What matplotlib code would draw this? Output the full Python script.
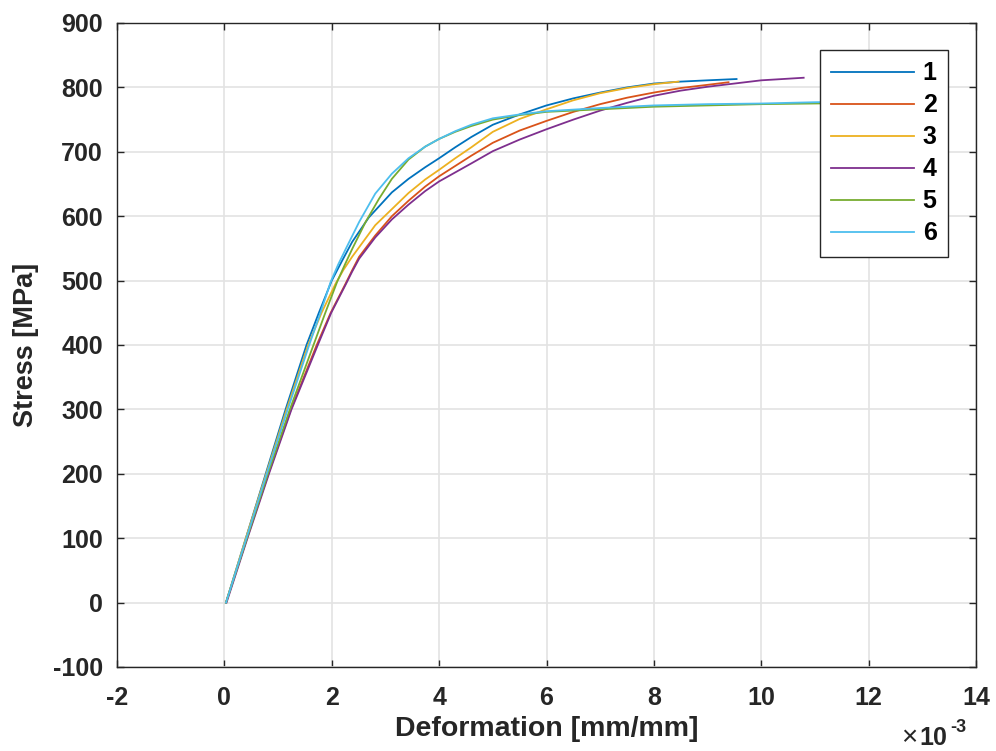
import numpy as np
import matplotlib
matplotlib.use("Agg")
import matplotlib.pyplot as plt
from matplotlib.ticker import FuncFormatter

plt.rcParams['font.family'] = ['Liberation Sans', 'DejaVu Sans']
plt.rcParams['font.weight'] = 'bold'
plt.rcParams['axes.unicode_minus'] = False

# strain in 1e-3 mm/mm, stress in MPa
strain_1 = [0.03, 0.40, 0.77, 1.14, 1.53, 1.76, 2.00, 2.20, 2.38, 2.69, 3.12, 3.43, 3.74, 4.0, 4.3,
            4.6, 5.0, 5.5, 6.0, 6.5, 7.0, 7.5, 8.0, 8.5, 9.0, 9.54]
stress_1 = [0, 100, 200, 300, 400, 450, 500, 532, 560, 598, 637, 658, 676, 690, 707,
            723, 742, 758, 772, 783, 792, 800, 806, 809, 811, 813]

strain_2 = [0.03, 0.42, 0.82, 1.24, 1.72, 1.98, 2.25, 2.38, 2.51, 2.81, 3.12, 3.43, 3.74, 4.0, 4.3,
            4.6, 5.0, 5.5, 6.0, 6.5, 7.0, 7.5, 8.0, 8.5, 9.0, 9.39]
stress_2 = [0, 100, 200, 300, 400, 450, 494, 516, 537, 570, 600, 624, 646, 662, 678,
            694, 714, 733, 748, 762, 774, 784, 792, 799, 804, 808]

strain_3 = [0.03, 0.40, 0.78, 1.16, 1.56, 1.81, 2.07, 2.22, 2.38, 2.81, 3.12, 3.43, 3.74, 4.0, 4.3,
            4.6, 5.0, 5.5, 6.0, 6.5, 7.0, 7.5, 8.0, 8.46]
stress_3 = [0, 100, 200, 300, 400, 450, 495, 517, 537, 586, 611, 636, 657, 672, 690,
            707, 731, 751, 766, 780, 791, 799, 805, 809]

strain_4 = [0.04, 0.43, 0.83, 1.25, 1.74, 1.99, 2.26, 2.38, 2.51, 2.81, 3.12, 3.43, 3.74, 4.0, 4.3,
            4.6, 5.0, 5.5, 6.0, 6.5, 7.0, 7.5, 8.0, 8.5, 9.0, 9.5, 10.0, 10.4, 10.79]
stress_4 = [0, 100, 200, 300, 400, 450, 494, 514, 534, 567, 595, 618, 639, 654, 668,
            682, 701, 719, 735, 750, 764, 776, 787, 795, 801, 806, 811, 813, 815]

strain_5 = [0.03, 0.42, 0.81, 1.22, 1.66, 1.88, 2.10, 2.24, 2.38, 2.63, 2.88, 3.12, 3.43, 3.74, 4.0,
            4.3, 4.6, 5.0, 5.5, 6.0, 7.0, 8.0, 9.0, 10.0, 11.0, 12.0]
stress_5 = [0, 100, 200, 300, 400, 450, 498, 524, 549, 591, 627, 658, 688, 708, 720,
            731, 740, 750, 757, 762, 766, 770, 772, 774, 775, 776]

strain_6 = [0.03, 0.41, 0.79, 1.18, 1.58, 1.79, 1.98, 2.12, 2.26, 2.51, 2.81, 3.12, 3.43, 3.74, 4.0,
            4.3, 4.6, 5.0, 5.5, 6.0, 7.0, 8.0, 9.0, 10.0, 11.0, 12.0]
stress_6 = [0, 100, 200, 300, 400, 450, 498, 525, 549, 591, 635, 666, 690, 708, 720,
            732, 742, 752, 758, 763, 768, 772, 774, 775, 777, 778]

labels = ['1', '2', '3', '4', '5', '6']
colors = ['#0072BD', '#D95319', '#EDB120', '#7E2F8E', '#77AC30', '#4DBEEE']
strains = [strain_1, strain_2, strain_3, strain_4, strain_5, strain_6]
stresses = [stress_1, stress_2, stress_3, stress_4, stress_5, stress_6]

fig = plt.figure(figsize=(9.96, 7.51), dpi=100)
ax = fig.add_axes([117 / 996, 84 / 751, 859 / 996, 644 / 751])

for s, y, c, lab in zip(strains, stresses, colors, labels):
    ax.plot(np.array(s) * 1e-3, y, color=c, lw=1.3, label=lab)

ax.set_xlim(-2e-3, 14e-3)
ax.set_ylim(-100, 900)
ax.set_xticks(np.arange(-2, 15, 2) * 1e-3)
ax.set_yticks(np.arange(-100, 901, 100))
ax.xaxis.set_major_formatter(FuncFormatter(lambda v, p: f'{v * 1e3:.0f}'))

ax.grid(True, color='#E3E3E3', lw=1.2)
ax.set_axisbelow(True)
for sp in ax.spines.values():
    sp.set_color('#262626')
    sp.set_linewidth(1.0)
ax.tick_params(direction='in', length=5, width=1.0, colors='#262626',
               labelsize=18, top=True, right=True)
ax.tick_params(axis='x', pad=14)
ax.tick_params(axis='y', pad=10)

ax.set_xlabel('Deformation [mm/mm]', fontsize=20.5, fontweight='bold',
              color='#262626', labelpad=4)
ax.set_ylabel('Stress [MPa]', fontsize=19.5, fontweight='bold',
              color='#262626', labelpad=10)

# MATLAB-style exponent under the right end of the x axis
fig.text(901 / 996, 1 - 745 / 751, '\u00d7', fontsize=20, fontweight='normal',
         color='#262626', ha='left', va='baseline')
fig.text(919 / 996, 1 - 745 / 751, '10', fontsize=18, fontweight='bold',
         color='#262626', ha='left', va='baseline')
fig.text(950 / 996, 1 - 732 / 751, '-3', fontsize=13, fontweight='bold',
         color='#262626', ha='left', va='baseline')

leg = ax.legend(loc='upper right', bbox_to_anchor=(0.9674, 0.958), borderaxespad=0,
                fontsize=18, handlelength=3.3, handletextpad=0.35, labelspacing=0.32,
                fancybox=False, edgecolor='#262626', framealpha=1, borderpad=0.45)
leg.get_frame().set_linewidth(1.0)

fig.savefig('out.png', dpi=100)
